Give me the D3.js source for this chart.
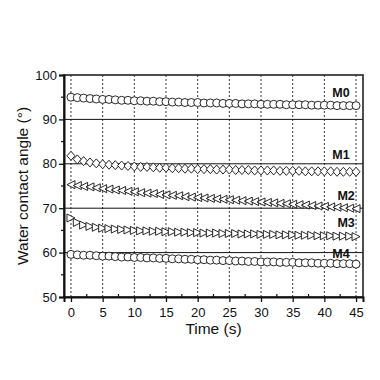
<!DOCTYPE html>
<html>
<head>
<meta charset="utf-8">
<script src="https://cdn.jsdelivr.net/npm/d3@7"></script>
<style>
  body { margin: 0; background: #fff; }
  text { font-family: "Liberation Sans", Arial, sans-serif; fill: #111; }
</style>
</head>
<body>
<div id="chart"></div>
<script>
// time points (s)
const times = d3.range(0, 46, 1);

const m0 = [95.0, 94.9, 94.8, 94.7, 94.6, 94.5, 94.5, 94.4, 94.3, 94.3, 94.2, 94.2, 94.1, 94.1, 94.0, 94.0, 93.9, 93.9, 93.8, 93.8, 93.8, 93.7, 93.7, 93.7, 93.6, 93.6, 93.6, 93.5, 93.5, 93.5, 93.4, 93.4, 93.4, 93.4, 93.3, 93.3, 93.3, 93.3, 93.2, 93.2, 93.2, 93.2, 93.1, 93.1, 93.1, 93.1];
const m1 = [81.8, 81.0, 80.6, 80.3, 80.1, 79.9, 79.8, 79.7, 79.6, 79.5, 79.4, 79.3, 79.3, 79.2, 79.1, 79.1, 79.0, 79.0, 78.9, 78.9, 78.8, 78.8, 78.8, 78.7, 78.7, 78.7, 78.6, 78.6, 78.6, 78.5, 78.5, 78.5, 78.5, 78.4, 78.4, 78.4, 78.4, 78.3, 78.3, 78.3, 78.3, 78.3, 78.2, 78.2, 78.2, 78.2];
const m2 = [75.3, 75.1, 74.9, 74.8, 74.6, 74.4, 74.3, 74.1, 74.0, 73.8, 73.7, 73.5, 73.4, 73.3, 73.1, 73.0, 72.9, 72.8, 72.6, 72.5, 72.4, 72.3, 72.2, 72.1, 72.0, 71.9, 71.8, 71.7, 71.6, 71.5, 71.4, 71.3, 71.2, 71.1, 71.0, 70.9, 70.8, 70.7, 70.6, 70.5, 70.4, 70.3, 70.2, 70.1, 70.0, 69.9];
const m3 = [67.8, 66.8, 66.2, 65.9, 65.7, 65.5, 65.4, 65.3, 65.2, 65.1, 65.0, 64.9, 64.9, 64.8, 64.8, 64.7, 64.7, 64.6, 64.6, 64.5, 64.5, 64.4, 64.4, 64.4, 64.3, 64.3, 64.3, 64.2, 64.2, 64.2, 64.1, 64.1, 64.1, 64.0, 64.0, 64.0, 63.9, 63.9, 63.9, 63.8, 63.8, 63.8, 63.7, 63.7, 63.7, 63.6];
const m4 = [59.6, 59.5, 59.4, 59.4, 59.3, 59.2, 59.2, 59.1, 59.0, 59.0, 58.9, 58.9, 58.8, 58.8, 58.7, 58.7, 58.6, 58.6, 58.5, 58.5, 58.4, 58.4, 58.3, 58.3, 58.2, 58.2, 58.1, 58.1, 58.0, 58.0, 57.9, 57.9, 57.9, 57.8, 57.8, 57.8, 57.7, 57.7, 57.7, 57.6, 57.6, 57.6, 57.5, 57.5, 57.5, 57.4];

const seriesNames = ['M0', 'M1', 'M2', 'M3', 'M4'];
const seriesValues = [m0, m1, m2, m3, m4];
// label baseline (value) and right end (time)
const labelValues = [95.0, 81.1, 71.9, 65.8, 58.8];
const labelTimes = [44.0, 44.0, 44.8, 44.8, 44.0];

const xTicks = [0, 5, 10, 15, 20, 25, 30, 35, 40, 45];
const yTicks = [50, 60, 70, 80, 90, 100];

const width = 380, height = 380;
const margin = { left: 64, right: 17, top: 75, bottom: 83 };
const innerW = width - margin.left - margin.right;
const innerH = height - margin.top - margin.bottom;

const svg = d3.select('#chart').append('svg')
    .attr('width', width)
    .attr('height', height);

const g = svg.append('g').attr('transform', `translate(${margin.left},${margin.top})`);

const x = d3.scaleLinear().domain([-1.1, 46.1]).range([0, innerW]);
const y = d3.scaleLinear().domain([50, 100]).range([innerH, 0]);

// dotted vertical grid
g.append('g').selectAll('line')
    .data(xTicks)
    .enter().append('line')
    .attr('x1', d => x(d)).attr('x2', d => x(d))
    .attr('y1', 0).attr('y2', innerH)
    .attr('stroke', '#222')
    .attr('stroke-width', 0.9)
    .attr('stroke-dasharray', '2,2');

// solid horizontal grid
g.append('g').selectAll('line')
    .data([60, 70, 80, 90])
    .enter().append('line')
    .attr('x1', 0).attr('x2', innerW)
    .attr('y1', d => y(d)).attr('y2', d => y(d))
    .attr('stroke', '#111')
    .attr('stroke-width', 1);

// frame
g.append('rect')
    .attr('x', 0).attr('y', 0)
    .attr('width', innerW).attr('height', innerH)
    .attr('fill', 'none')
    .attr('stroke', '#222')
    .attr('stroke-width', 1.6);

// axes
const xAxis = g.append('g')
    .attr('transform', `translate(0,${innerH})`)
    .call(d3.axisBottom(x).tickValues(xTicks).tickSize(5).tickPadding(6));
const yAxis = g.append('g')
    .call(d3.axisLeft(y).tickValues(yTicks).tickSize(5).tickPadding(2));

[xAxis, yAxis].forEach(a => {
    a.select('.domain').attr('stroke', '#111').attr('stroke-width', 2);
    a.selectAll('.tick line').attr('stroke', '#111').attr('stroke-width', 1.3);
    a.selectAll('.tick text')
        .style('font-family', '"Liberation Sans", Arial, sans-serif')
        .style('font-size', '13px')
        .attr('fill', '#111');
});

// minor ticks (inside)
g.append('g').selectAll('line')
    .data(d3.range(2.5, 46, 5))
    .enter().append('line')
    .attr('x1', d => x(d)).attr('x2', d => x(d))
    .attr('y1', innerH).attr('y2', innerH - 3)
    .attr('stroke', '#111').attr('stroke-width', 1.2);
g.append('g').selectAll('line')
    .data(d3.range(55, 100, 10))
    .enter().append('line')
    .attr('x1', 0).attr('x2', -3)
    .attr('y1', d => y(d)).attr('y2', d => y(d))
    .attr('stroke', '#111').attr('stroke-width', 1.2);

// markers
const r = 4;
const shapes = {
    circle: `M${r},0A${r},${r},0,1,1,${-r},0A${r},${r},0,1,1,${r},0Z`,
    diamond: `M0,${-r - 0.5}L${r},0L0,${r + 0.5}L${-r},0Z`,
    left: `M${-r},0L${r},${-r}L${r},${r}Z`,
    right: `M${r},0L${-r},${-r}L${-r},${r}Z`
};
const seriesShapes = ['circle', 'diamond', 'left', 'right', 'circle'];

seriesValues.forEach((vals, i) => {
    g.append('g').selectAll('path')
        .data(vals)
        .enter().append('path')
        .attr('transform', (d, j) => `translate(${x(times[j])},${y(d)})`)
        .attr('d', shapes[seriesShapes[i]])
        .attr('fill', '#fff')
        .attr('stroke', '#111')
        .attr('stroke-width', 0.9);
});

// series labels
g.append('g').selectAll('text')
    .data(seriesNames)
    .enter().append('text')
    .attr('x', (d, i) => x(labelTimes[i]))
    .attr('y', (d, i) => y(labelValues[i]))
    .attr('text-anchor', 'end')
    .style('font-size', '12.5px')
    .style('font-weight', 'bold')
    .text(d => d);

// axis titles
svg.append('text')
    .attr('x', margin.left + x(22.5))
    .attr('y', 334)
    .attr('text-anchor', 'middle')
    .style('font-size', '15.5px')
    .text('Time (s)');

svg.append('text')
    .attr('transform', `translate(28,${margin.top + innerH / 2}) rotate(-90)`)
    .attr('text-anchor', 'middle')
    .style('font-size', '15.5px')
    .text('Water contact angle (°)');
</script>
</body>
</html>
